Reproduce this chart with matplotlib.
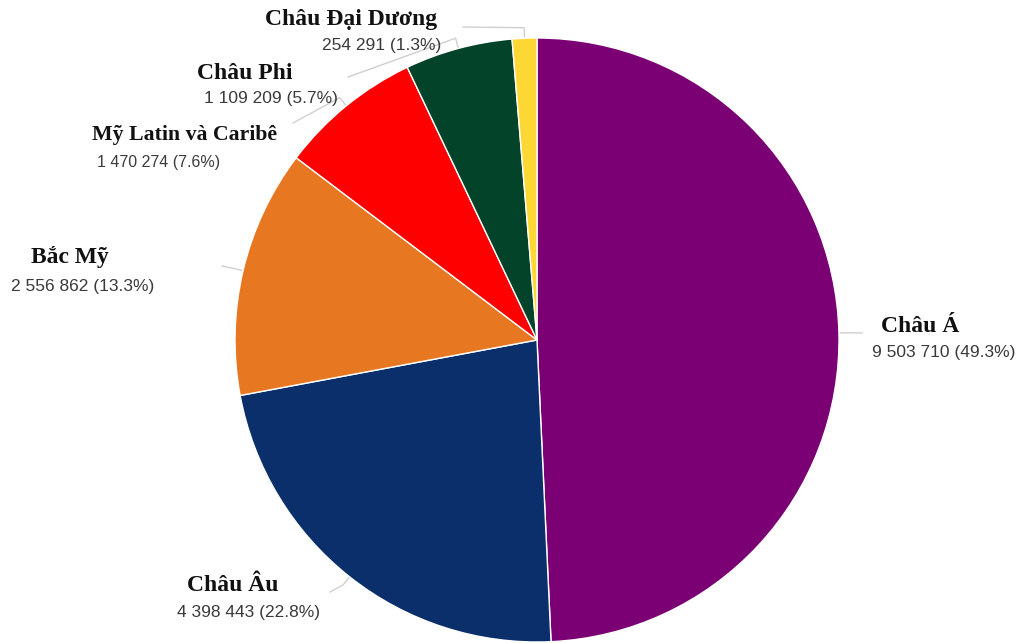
import numpy as np
import matplotlib.pyplot as plt

# Dân số theo châu lục
regions = ['Châu Á', 'Châu Âu', 'Bắc Mỹ', 'Mỹ Latin và Caribê', 'Châu Phi', 'Châu Đại Dương']
values = [9503710, 4398443, 2556862, 1470274, 1109209, 254291]
colors = ['#7a0074', '#0b2f6b', '#e87722', '#ff0000', '#03432a', '#fdd835']

W, H = 1019, 643
cx, cy, R = 537, 340, 302

# vị trí nhãn (pixel, góc trên trái): tên / giá trị
name_pos = [(881, 316), (187, 575), (31, 246), (92, 125), (197, 63), (265, 9)]
value_pos = [(872, 345), (177, 605), (11, 279), (97, 155), (204, 91), (322, 38)]
# cỡ chữ riêng cho nhãn bị thu nhỏ
label_scale = [1, 1, 1, 0.92, 1, 1]
# điểm cuối đường dẫn
leader_end = [(862, 333), (330, 592), (222, 266), (293, 123), (348, 77), (463, 27)]

fig = plt.figure(figsize=(W / 100, H / 100), dpi=100)
ax = fig.add_axes([0, 0, 1, 1])
ax.set_xlim(0, W)
ax.set_ylim(0, H)
ax.set_aspect('equal')
ax.axis('off')

wedges, _ = ax.pie(values, colors=colors, startangle=90, counterclock=False,
                   center=(cx, H - cy), radius=R,
                   wedgeprops=dict(edgecolor='white', linewidth=1))
ax.set_xlim(0, W)
ax.set_ylim(0, H)

total = sum(values)
for i, w in enumerate(wedges):
    mid = np.deg2rad((w.theta1 + w.theta2) / 2)
    x0 = cx + R * np.cos(mid)
    y0 = (H - cy) + R * np.sin(mid)
    x1 = cx + R * 1.035 * np.cos(mid)
    y1 = (H - cy) + R * 1.035 * np.sin(mid)
    ex, ey = leader_end[i]
    ax.plot([x0, x1, ex], [y0, y1, H - ey], color='#cfcfcf', lw=1, zorder=0)

    s = label_scale[i]
    nx, ny = name_pos[i]
    ax.text(nx, H - ny, regions[i], fontsize=17 * s, fontweight='bold',
            family='Liberation Serif', color='#111111', ha='left', va='top')
    vx, vy = value_pos[i]
    label = f"{values[i]:,}".replace(',', ' ') + f" ({values[i] / total * 100:.1f}%)"
    ax.text(vx, H - vy, label, fontsize=12.5 * s, family='Liberation Sans',
            color='#3a3a3a', ha='left', va='top')

fig.savefig('out.png', dpi=100)
